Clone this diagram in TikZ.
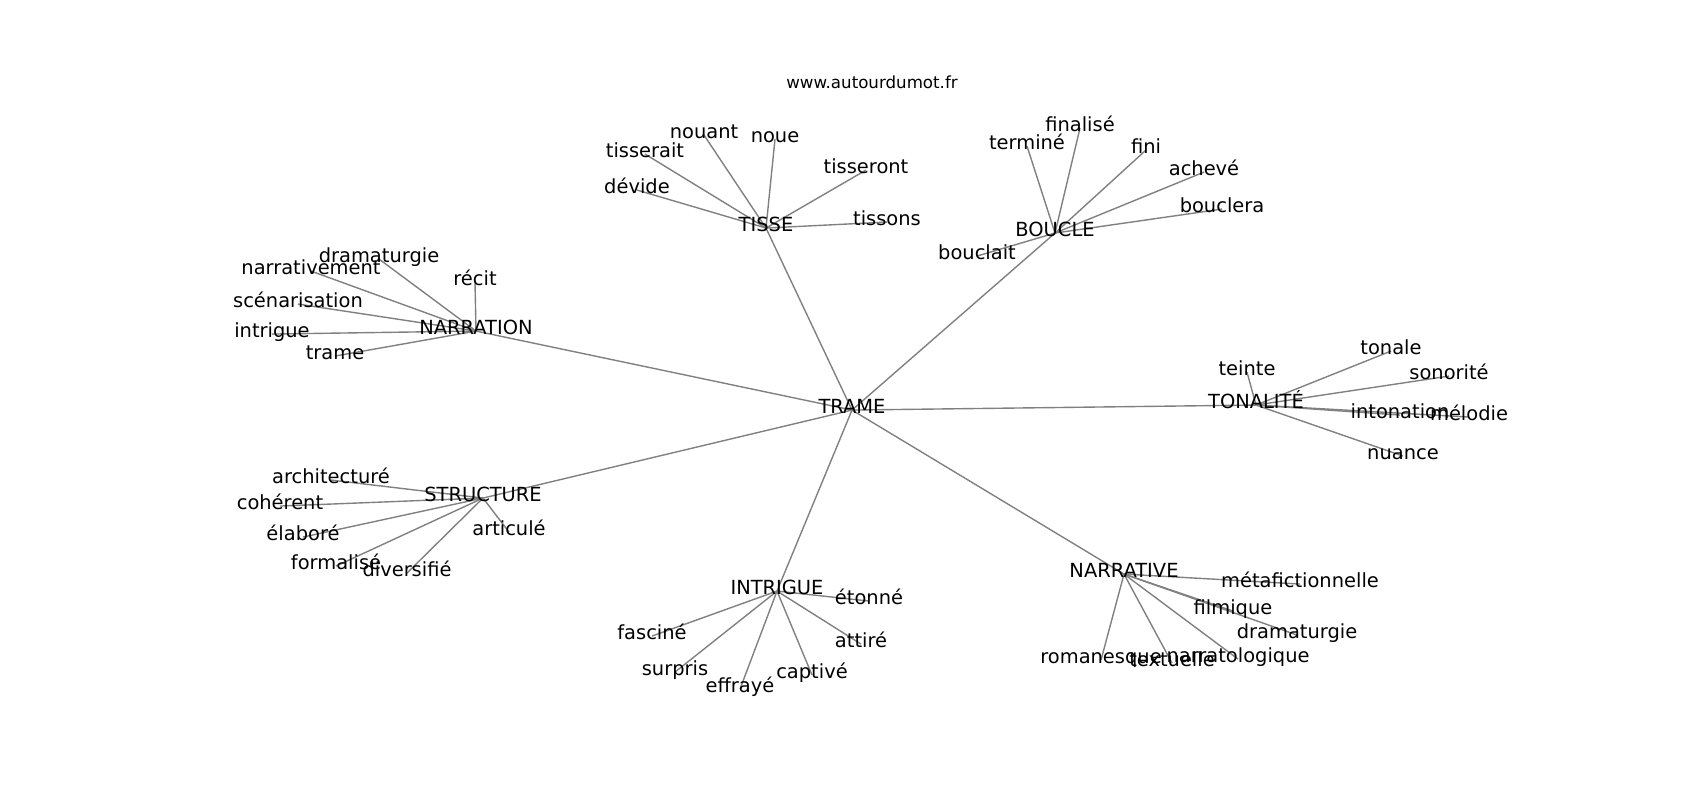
\documentclass[tikz,border=0pt]{standalone}
\usepackage{fontspec}
\setmainfont{DejaVu Sans}
\pgfdeclarelayer{bg}
\pgfsetlayers{bg,main}
\tikzset{
  lbl/.style={inner sep=0pt, text height=0.76em, text depth=0.24em, font=\fontsize{14}{16.8}\selectfont, text=black},
  ttl/.style={inner sep=0pt, anchor=base, font=\fontsize{12}{14.4}\selectfont, text=black},
  edge/.style={draw=gray, line width=1pt}
}
\begin{document}
\begin{tikzpicture}[x=0.72pt, y=-0.72pt]
\useasboundingbox (0,0) rectangle (1700,800);
\node[ttl] (title) at (872,88) {www.autourdumot.fr};
\begin{scope}[yshift=-2.2pt]
% hubs
\node[lbl] (trame) at (852,407) {TRAME};
\node[lbl] (tisse) at (766,225) {TISSE};
\node[lbl] (boucle) at (1055,230) {BOUCLE};
\node[lbl] (narration) at (476,328) {NARRATION};
\node[lbl] (tonalite) at (1256,402) {TONALITÉ};
\node[lbl] (structure) at (483,495) {STRUCTURE};
\node[lbl] (intrigueH) at (777,588) {INTRIGUE};
\node[lbl] (narrative) at (1124,571) {NARRATIVE};
% TISSE leaves
\node[lbl] (nouant) at (704,132) {nouant};
\node[lbl] (noue) at (775,136) {noue};
\node[lbl] (tisserait) at (645,151) {tisserait};
\node[lbl] (devide) at (637,187) {dévide};
\node[lbl] (tisseront) at (866,167) {tisseront};
\node[lbl] (tissons) at (887,219) {tissons};
% BOUCLE leaves
\node[lbl] (finalise) at (1080,125) {finalisé};
\node[lbl] (termine) at (1027,143) {terminé};
\node[lbl] (fini) at (1146,147) {fini};
\node[lbl] (acheve) at (1204,169) {achevé};
\node[lbl] (bouclera) at (1222,206) {bouclera};
\node[lbl] (bouclait) at (977,253) {bouclait};
% NARRATION leaves
\node[lbl] (dramaA) at (379,256) {dramaturgie};
\node[lbl] (narrativement) at (311,268) {narrativement};
\node[lbl] (recit) at (475,279) {récit};
\node[lbl] (scenarisation) at (298,301) {scénarisation};
\node[lbl] (intrigueL) at (272,331) {intrigue};
\node[lbl] (trameL) at (335,353) {trame};
% TONALITE leaves
\node[lbl] (tonale) at (1391,348) {tonale};
\node[lbl] (teinte) at (1247,369) {teinte};
\node[lbl] (sonorite) at (1449,373) {sonorité};
\node[lbl] (intonation) at (1400,412) {intonation};
\node[lbl] (melodie) at (1469,414) {mélodie};
\node[lbl] (nuance) at (1403,453) {nuance};
% STRUCTURE leaves
\node[lbl] (architecture) at (331,477) {architecturé};
\node[lbl] (coherent) at (280,503) {cohérent};
\node[lbl] (elabore) at (303,534) {élaboré};
\node[lbl] (articule) at (509,529) {articulé};
\node[lbl] (formalise) at (336,563) {formalisé};
\node[lbl] (diversifie) at (407,570) {diversifié};
% INTRIGUE leaves
\node[lbl] (etonne) at (869,598) {étonné};
\node[lbl] (fascine) at (652,633) {fasciné};
\node[lbl] (attire) at (861,641) {attiré};
\node[lbl] (surpris) at (675,669) {surpris};
\node[lbl] (captive) at (812,672) {captivé};
\node[lbl] (effraye) at (740,686) {effrayé};
% NARRATIVE leaves
\node[lbl] (metafic) at (1300,581) {métafictionnelle};
\node[lbl] (filmique) at (1233,608) {filmique};
\node[lbl] (dramaB) at (1297,632) {dramaturgie};
\node[lbl] (romanesque) at (1101,657) {romanesque};
\node[lbl] (textuelle) at (1172,660) {textuelle};
\node[lbl] (narratologique) at (1238,656) {narratologique};
\end{scope}
\begin{pgfonlayer}{bg}
\fill[white] (0,0) rectangle (1700,800);
\foreach \h in {tisse,boucle,narration,tonalite,structure,intrigueH,narrative}
  \draw[edge] (trame.center) -- (\h.center);
\foreach \l in {nouant,noue,tisserait,devide,tisseront,tissons}
  \draw[edge] (tisse.center) -- (\l.center);
\foreach \l in {finalise,termine,fini,acheve,bouclera,bouclait}
  \draw[edge] (boucle.center) -- (\l.center);
\foreach \l in {dramaA,narrativement,recit,scenarisation,intrigueL,trameL}
  \draw[edge] (narration.center) -- (\l.center);
\foreach \l in {tonale,teinte,sonorite,intonation,melodie,nuance}
  \draw[edge] (tonalite.center) -- (\l.center);
\foreach \l in {architecture,coherent,elabore,articule,formalise,diversifie}
  \draw[edge] (structure.center) -- (\l.center);
\foreach \l in {etonne,fascine,attire,surpris,captive,effraye}
  \draw[edge] (intrigueH.center) -- (\l.center);
\foreach \l in {metafic,filmique,dramaB,romanesque,textuelle,narratologique}
  \draw[edge] (narrative.center) -- (\l.center);
\end{pgfonlayer}
\end{tikzpicture}
\end{document}
